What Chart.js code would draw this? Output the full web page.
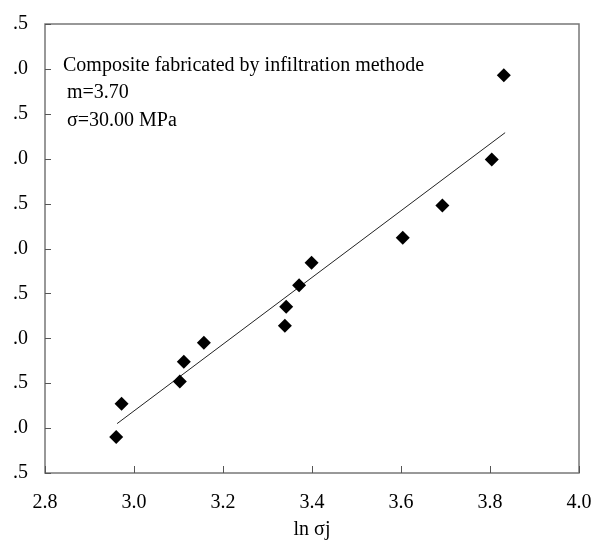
<!DOCTYPE html>
<html>
<head>
<meta charset="utf-8">
<script src="https://cdn.jsdelivr.net/npm/chart.js@4"></script>
<style>
  html, body { margin: 0; padding: 0; background: #fff; }
  #wrap { position: relative; width: 593px; height: 547px; }
</style>
</head>
<body>
<div id="wrap"><canvas id="chart" width="593" height="547"></canvas></div>
<script>
// ln(sigma) vs ln ln(1/(1-F))
const lnSigma = [2.960, 2.972, 3.103, 3.112, 3.157, 3.339, 3.342, 3.371, 3.399, 3.604, 3.693, 3.804, 3.831];
const lnlnF   = [-3.10, -2.73, -2.48, -2.26, -2.05, -1.86, -1.65, -1.41, -1.16, -0.88, -0.52, -0.01, 0.93];

// end points of the fitted line
const fitX = [2.962, 3.834];
const fitY = [-2.95, 0.29];

const xTicks = [2.8, 3.0, 3.2, 3.4, 3.6, 3.8, 4.0];
const yTicks = [-3.5, -3.0, -2.5, -2.0, -1.5, -1.0, -0.5, 0.0, 0.5, 1.0, 1.5];

const noteLines = ['Composite fabricated by infiltration methode', 'm=3.70', 'σ=30.00 MPa'];

Chart.defaults.font.family = '"Liberation Serif", "Times New Roman", serif';
Chart.defaults.font.size = 20;
Chart.defaults.color = '#000';

// box, inward ticks, note text and the cropped left edge
const frame = {
  id: 'frame',
  afterDraw(chart) {
    const { ctx, chartArea: a, scales } = chart;
    ctx.save();
    ctx.strokeStyle = '#777';
    ctx.lineWidth = 1.5;
    ctx.strokeRect(a.left, a.top, a.right - a.left, a.bottom - a.top);

    ctx.strokeStyle = '#555';
    ctx.lineWidth = 1;
    ctx.beginPath();
    yTicks.forEach(v => {
      const y = Math.round(scales.y.getPixelForValue(v)) + 0.5;
      ctx.moveTo(a.left, y);
      ctx.lineTo(a.left + 6, y);
    });
    xTicks.forEach(v => {
      const x = Math.round(scales.x.getPixelForValue(v)) + 0.5;
      ctx.moveTo(x, a.bottom);
      ctx.lineTo(x, a.bottom - 7);
    });
    ctx.stroke();

    ctx.fillStyle = '#000';
    ctx.font = '20px "Liberation Serif"';
    ctx.textBaseline = 'middle';
    ctx.fillText(noteLines[0], a.left + 18, 66);
    ctx.fillText(noteLines[1], a.left + 22, 93);
    ctx.fillText(noteLines[2], a.left + 22, 121);

    // the source figure is cut off at the left edge
    ctx.clearRect(0, 0, 13, a.bottom + 10);
    ctx.restore();
  }
};

new Chart(document.getElementById('chart'), {
  type: 'scatter',
  data: {
    datasets: [
      {
        label: 'data',
        data: lnSigma.map((x, i) => ({ x, y: lnlnF[i] })),
        pointStyle: 'rectRot',
        pointRadius: 7,
        pointHoverRadius: 7,
        backgroundColor: '#000',
        borderColor: '#000',
        borderWidth: 0
      },
      {
        label: 'fit',
        type: 'line',
        data: fitX.map((x, i) => ({ x, y: fitY[i] })),
        borderColor: '#222',
        borderWidth: 1,
        pointRadius: 0,
        fill: false
      }
    ]
  },
  options: {
    responsive: false,
    animation: false,
    layout: { padding: { top: 24, right: 14, left: 0, bottom: 0 } },
    plugins: { legend: { display: false }, tooltip: { enabled: false } },
    scales: {
      x: {
        type: 'linear',
        min: 2.8,
        max: 4.0,
        afterBuildTicks: s => { s.ticks = xTicks.map(v => ({ value: v })); },
        afterFit: s => { s.height = 74; s.paddingLeft = 0; s.paddingRight = 0; },
        ticks: { callback: v => v.toFixed(1), padding: 18, maxRotation: 0 },
        grid: { display: false, drawTicks: false },
        border: { display: false },
        title: { display: true, text: 'ln σj', padding: { top: 4, bottom: 5 } }
      },
      y: {
        type: 'linear',
        min: -3.5,
        max: 1.5,
        afterBuildTicks: s => { s.ticks = yTicks.map(v => ({ value: v })); },
        afterFit: s => { s.width = 45; s.paddingTop = 0; s.paddingBottom = 0; },
        ticks: { callback: v => v.toFixed(1), padding: 17 },
        grid: { display: false, drawTicks: false },
        border: { display: false }
      }
    }
  },
  plugins: [frame]
});
</script>
</body>
</html>
